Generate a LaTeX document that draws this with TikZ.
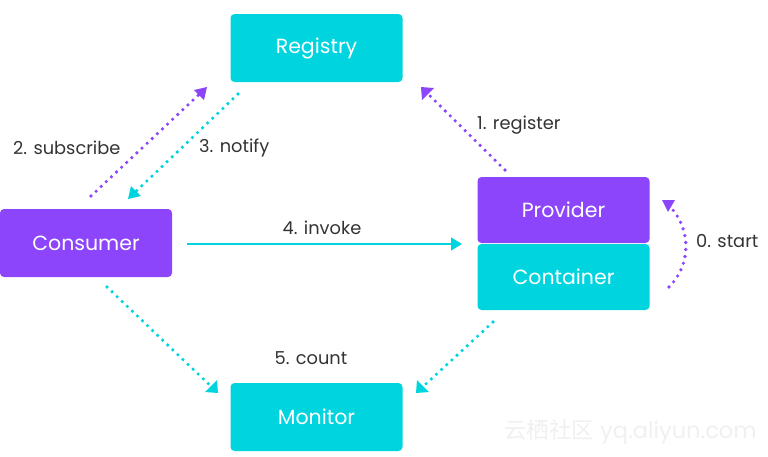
\documentclass[tikz,border=0pt]{standalone}
\usepackage{fontspec}
\setmainfont{Poppins}
\newfontfamily\cjk{Noto Sans CJK SC}
\usetikzlibrary{arrows.meta}
\definecolor{cy}{HTML}{00D5DF}
\definecolor{pu}{HTML}{8C45FA}
\definecolor{tx}{HTML}{333333}
\begin{document}
\begin{tikzpicture}[x=1pt,y=-1pt,
  box/.style={rounded corners=4pt,minimum width=172pt,text=white,font=\fontsize{20.5}{24}\selectfont,inner sep=0pt},
  lbl/.style={text=tx,font=\fontsize{17.8}{21}\selectfont,inner sep=0pt},
  dotline/.style={line width=3.6pt,dash pattern=on 0pt off 7pt,line cap=round}]
\useasboundingbox (0,0) rectangle (768,456);
% boxes
\node[box,fill=cy,minimum height=68pt] (reg) at (316.5,48) {Registry};
\node[box,fill=pu,minimum height=68pt] (con) at (86,243) {Consumer};
\node[box,fill=pu,minimum height=66pt] (pro) at (563.5,210) {Provider};
\node[box,fill=cy,minimum height=66pt] (ctn) at (563.5,277) {Container};
\node[box,fill=cy,minimum height=68pt] (mon) at (316.5,417) {Monitor};
% endpoints
\coordinate (s1) at (91,196);
\coordinate (s2) at (207,87);
\coordinate (n1) at (238,94);
\coordinate (n2) at (128,199);
\coordinate (r1) at (505,170);
\coordinate (r2) at (421,87);
\coordinate (st1) at (669,287);
\coordinate (st2) at (662,200);
\coordinate (i1) at (187,244);
\coordinate (i2) at (462,244);
\coordinate (c1) at (107,287);
\coordinate (c2) at (218,393);
\coordinate (d1) at (493,322);
\coordinate (d2) at (416,393);
% connectors
\draw[pu,dotline,shorten >=3pt] (s1) -- (s2);
\fill[pu] (s2) -- ++(-13,3) -- ++(10,10) -- cycle;
\draw[cy,dotline,shorten >=3pt] (n1) -- (n2);
\fill[cy] (n2) -- ++(3,-13) -- ++(10,10) -- cycle;
\draw[pu,dotline,shorten >=3pt] (r1) -- (r2);
\fill[pu] (r2) -- ++(13,1) -- ++(-12,12) -- cycle;
\draw[pu,dotline,shorten >=4pt] (st1) .. controls (694,262) and (690,222) .. (st2);
\fill[pu] (st2) -- ++(13,0) -- ++(-7,12) -- cycle;
\draw[cy,line width=1.6pt,-{Triangle[length=11pt,width=13pt]}] (i1) -- (i2);
\draw[cy,dotline,shorten >=3pt] (c1) -- (c2);
\fill[cy] (c2) -- ++(-1,-13) -- ++(-12,12) -- cycle;
\draw[cy,dotline,shorten >=3pt] (d1) -- (d2);
\fill[cy] (d2) -- ++(1,-13) -- ++(12,12) -- cycle;
% labels
\node[lbl,anchor=west] (l1) at (477,125) {1. register};
\node[lbl,anchor=west] (l2) at (13,148) {2. subscribe};
\node[lbl,anchor=west] (l3) at (199,148) {3. notify};
\node[lbl] (l4) at (322,228) {4. invoke};
\node[lbl,anchor=west] (l0) at (696,241) {0. start};
\node[lbl] (l5) at (311,358) {5. count};
% watermark
\node[text=black!6,font=\fontsize{22.5}{26}\selectfont,inner sep=0pt,anchor=west] (wm) at (504,432) {{\cjk 云栖社区} yq.aliyun.com};
\end{tikzpicture}
\end{document}
